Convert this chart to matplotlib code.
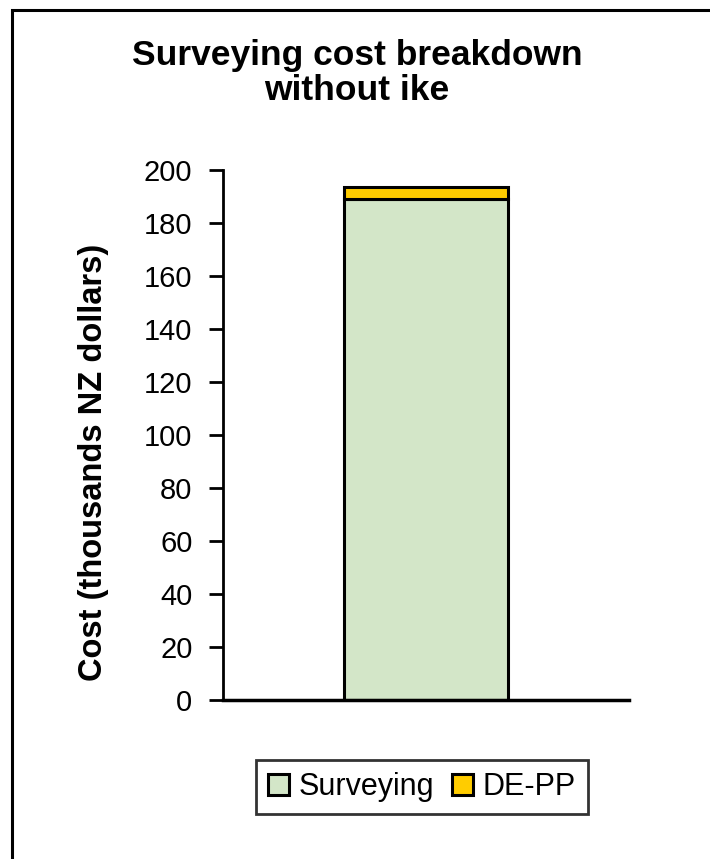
import matplotlib
matplotlib.use("Agg")
import matplotlib.pyplot as plt
import matplotlib.patches as mpatches

plt.rcParams['font.family'] = ['Liberation Sans', 'DejaVu Sans']

# values (thousands NZ dollars)
categories = ["without ike"]
surveying = [189]
de_pp = [4.5]
yticks = [0, 20, 40, 60, 80, 100, 120, 140, 160, 180, 200]

W, H = 710, 859
fig = plt.figure(figsize=(W/100, H/100), dpi=100)

# outer chart frame (right and bottom cut off in the reference)
frame = mpatches.Rectangle((12/W, -0.1), 1.2, 1 - 10/H + 0.1, transform=fig.transFigure,
                           fill=False, edgecolor='black', linewidth=2.2, clip_on=False)
fig.patches.append(frame)

ax = fig.add_axes([223/W, 1 - 700/H, (629-223)/W, (700-170)/H])

x = range(len(categories))
ax.bar(x, surveying, width=0.404, color='#d3e6c8', edgecolor='black', linewidth=2.2,
       label='Surveying')
ax.bar(x, de_pp, bottom=surveying, width=0.404, color='#ffcc00', edgecolor='black',
       linewidth=2.2, label='DE-PP')

ax.set_xlim(-0.5, 0.5)
ax.set_ylim(0, 200)
ax.set_yticks(yticks)
ax.set_xticks([])
ax.tick_params(axis='y', direction='out', length=10, width=2, labelsize=21, pad=12)
for s in ['top', 'right']:
    ax.spines[s].set_visible(False)
ax.spines['left'].set_linewidth(2)
ax.spines['bottom'].set_linewidth(2.5)

ax.set_ylabel("Cost (thousands NZ dollars)", fontsize=23.5, fontweight='bold')
ax.yaxis.set_label_coords(-(223-109)/(629-223), (700-462)/(700-170))
fig.text(357/W, 1 - 73/H, "Surveying cost breakdown\nwithout ike", ha='center', va='center',
         fontsize=25.5, fontweight='bold', linespacing=1.05)

leg = fig.legend(loc='center', bbox_to_anchor=(422/W, 1 - 787/H), ncol=2, fontsize=22,
                 frameon=True, fancybox=False, edgecolor='black', handlelength=0.69,
                 handleheight=0.69, handletextpad=0.3, columnspacing=0.6, borderpad=0.4,
                 borderaxespad=0)
leg.get_frame().set_linewidth(2)

fig.savefig("out.png", dpi=100)
